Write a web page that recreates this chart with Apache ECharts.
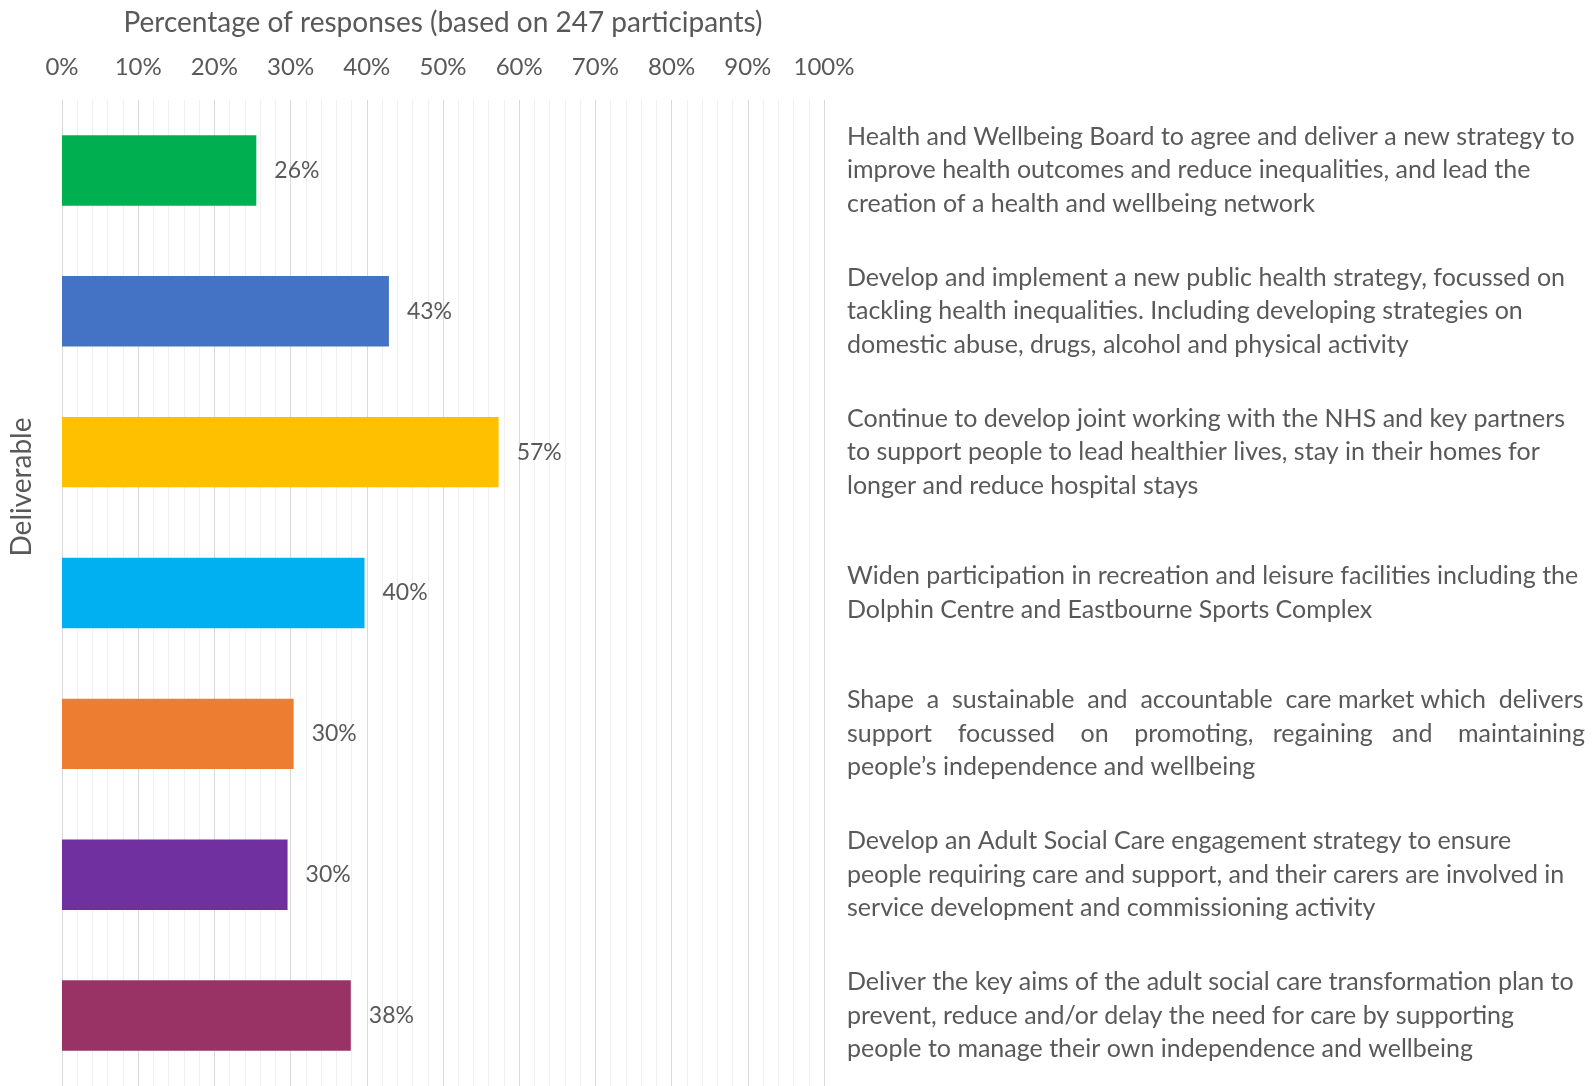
<!DOCTYPE html>
<html>
<head>
<meta charset="utf-8">
<title>Deliverables</title>
<script src="https://cdn.jsdelivr.net/npm/echarts@6/dist/echarts.min.js"></script>
<style>
  html, body { margin: 0; padding: 0; background: #fff; }
  #chart { width: 1593px; height: 1086px; }
</style>
</head>
<body>
<div id="chart"></div>
<script>
// 数据
var deliverables = [
  "Health and Wellbeing Board to agree and deliver a new strategy to\nimprove health outcomes and reduce inequalities, and lead the\ncreation of a health and wellbeing network",
  "Develop and implement a new public health strategy, focussed on\ntackling health inequalities. Including developing strategies on\ndomestic abuse, drugs, alcohol and physical activity",
  "Continue to develop joint working with the NHS and key partners\nto support people to lead healthier lives, stay in their homes for\nlonger and reduce hospital stays",
  "Widen participation in recreation and leisure facilities including the\nDolphin Centre and Eastbourne Sports Complex",
  // 两端对齐的段落，用空格模拟
  "Shape  a  sustainable  and  accountable  care market which  delivers\nsupport    focussed    on    promoting,   regaining   and    maintaining\npeople’s independence and wellbeing",
  "Develop an Adult Social Care engagement strategy to ensure\npeople requiring care and support, and their carers are involved in\nservice development and commissioning activity",
  "Deliver the key aims of the adult social care transformation plan to\nprevent, reduce and/or delay the need for care by supporting\npeople to manage their own independence and wellbeing"
];
var percentages = [25.5, 42.9, 57.3, 39.7, 30.4, 29.6, 37.9];
var barColors = ["#00B050", "#4472C4", "#FFC000", "#00B0F0", "#ED7D31", "#7030A0", "#993366"];

var font = "Lato";
var textColor = "#595959";

var myChart = echarts.init(document.getElementById("chart"));

var opts = {
  animation: false,
  grid: {
    left: 62,
    right: 769,
    top: 100,
    bottom: 0,
    outerBoundsMode: "none"
  },
  graphic: [
    {
      type: "text",
      x: 22,
      y: 487,
      rotation: Math.PI / 2,
      style: {
        text: "Deliverable",
        fill: textColor,
        font: "28px " + font,
        align: "center",
        verticalAlign: "middle"
      }
    }
  ],
  xAxis: {
    type: "value",
    position: "top",
    min: 0,
    max: 100,
    interval: 10,
    name: "Percentage of responses (based on 247 participants)",
    nameLocation: "middle",
    nameGap: 63,
    nameTextStyle: { color: textColor, fontFamily: font, fontSize: 28 },
    axisLine: { show: false },
    axisTick: { show: false },
    axisLabel: {
      color: textColor,
      fontFamily: font,
      fontSize: 24,
      margin: 21,
      formatter: "{value}%"
    },
    splitLine: { show: true, lineStyle: { color: "#d9d9d9", width: 1 } },
    minorTick: { show: false, splitNumber: 5 },
    minorSplitLine: { show: true, lineStyle: { color: "#f0f0f0", width: 1 } }
  },
  yAxis: [
    {
      type: "category",
      inverse: true,
      data: deliverables,
      axisLine: { show: true, lineStyle: { color: "#d9d9d9" } },
      axisTick: { show: false },
      axisLabel: { show: false }
    },
    {
      type: "category",
      inverse: true,
      position: "right",
      data: deliverables,
      axisLine: { show: false },
      axisTick: { show: false },
      axisLabel: {
        show: true,
        align: "left",
        margin: 23,
        color: textColor,
        fontFamily: font,
        fontSize: 25,
        lineHeight: 33.5
      }
    }
  ],
  series: [
    {
      type: "bar",
      yAxisIndex: 0,
      barCategoryGap: "50%",
      data: percentages.map(function (v, i) {
        return { value: v, itemStyle: { color: barColors[i] } };
      }),
      label: {
        show: true,
        position: "right",
        distance: 18,
        color: textColor,
        fontFamily: font,
        fontSize: 23,
        formatter: function (p) {
          return Math.round(p.value) + "%";
        }
      }
    }
  ]
};

myChart.setOption(opts);
</script>
</body>
</html>
